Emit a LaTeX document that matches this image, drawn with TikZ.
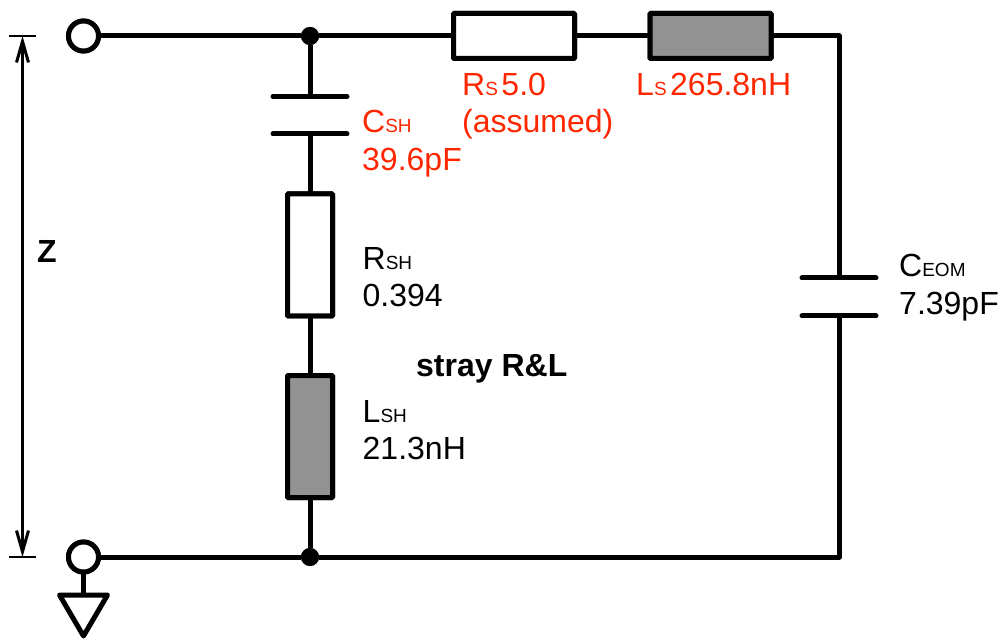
\documentclass[tikz,border=0pt]{standalone}
\usepackage{fontspec}
\setmainfont{Liberation Sans}
\usetikzlibrary{arrows.meta}
\definecolor{lbl}{RGB}{255,38,0}
\definecolor{fillgray}{RGB}{146,146,146}
\newcommand{\lsub}[1]{{\fontsize{19}{24}\selectfont #1}}
\tikzset{
  x=1pt,y=-1pt,
  wire/.style={line width=5pt,line join=round,line cap=butt},
  plate/.style={line width=5pt,line cap=round},
  thin wire/.style={line width=3pt},
  resbox/.style={draw,line width=5pt,rounded corners=0.8pt,fill=white,inner sep=0pt,outer sep=0pt},
  indbox/.style={resbox,fill=fillgray},
  hbox/.style={minimum width=121pt,minimum height=45pt},
  vbox/.style={minimum width=45pt,minimum height=122pt},
  term/.style={circle,draw,line width=5pt,fill=white,minimum size=30pt,inner sep=0pt,outer sep=0pt},
  junction/.style={circle,fill=black,minimum size=18pt,inner sep=0pt,outer sep=0pt},
  txt/.style={anchor=base west,inner sep=0pt,font=\fontsize{32}{38}\selectfont,text=black},
  red txt/.style={txt,text=lbl},
  bold txt/.style={txt,font=\fontsize{32}{38}\selectfont\bfseries},
}
\begin{document}
\begin{tikzpicture}
\useasboundingbox (0,0) rectangle (1002,639);
% named points
\node[term] (t1) at (83.5,36) {};
\node[term] (t2) at (83.5,557) {};
\node[junction] (j1) at (310,36) {};
\node[junction] (j2) at (310,557) {};
\node[resbox,hbox] (rs) at (514,36) {};
\node[indbox,hbox] (ls) at (710.5,36) {};
\node[resbox,vbox] (rsh) at (310,255) {};
\node[indbox,vbox] (lsh) at (310,436.5) {};
\coordinate (csh1) at (310,96.5);
\coordinate (csh2) at (310,134);
\coordinate (ceom1) at (839,278);
\coordinate (ceom2) at (839,316);
\coordinate (tr) at (839,36);
\coordinate (br) at (839,557);
\coordinate (gtop) at (83.5,595);
\coordinate (ztop) at (22.5,36);
\coordinate (zbot) at (22.5,557);
% wires
\draw[wire] (t1) -- (j1) -- (rs);
\draw[wire] (rs) -- (ls);
\draw[wire] (ls) -- (tr) -- (ceom1);
\draw[wire] (ceom2) -- (br) -- (j2) -- (t2);
\draw[wire] (j1) -- (csh1);
\draw[wire] (csh2) -- (rsh);
\draw[wire] (rsh) -- (lsh);
\draw[wire] (lsh) -- (j2);
\draw[wire] (t2) -- (gtop);
% redraw components on top of wires
\node[resbox,hbox] at (rs) {};
\node[indbox,hbox] at (ls) {};
\node[resbox,vbox] at (rsh) {};
\node[indbox,vbox] at (lsh) {};
\node[term] at (t1) {};
\node[term] at (t2) {};
\node[junction] at (j1) {};
\node[junction] at (j2) {};
% capacitor plates
\draw[plate] ([xshift=-37pt]csh1) -- ([xshift=37pt]csh1);
\draw[plate] ([xshift=-37pt]csh2) -- ([xshift=37pt]csh2);
\draw[plate] ([xshift=-37pt]ceom1) -- ([xshift=37pt]ceom1);
\draw[plate] ([xshift=-37pt]ceom2) -- ([xshift=37pt]ceom2);
% ground
\draw[wire,fill=white,line join=round] (gtop) -- ++(-24,0) -- (83.5,636) -- (107.5,595) -- cycle;
% Z dimension
\draw[thin wire,{Straight Barb[length=21pt,width=12pt,line width=3pt]}-{Straight Barb[length=21pt,width=12pt,line width=3pt]}] (ztop) -- (zbot);
\draw[line width=2.5pt] ([xshift=-13.5pt]ztop) -- ([xshift=13.5pt]ztop);
\draw[line width=2.5pt] ([xshift=-13.5pt]zbot) -- ([xshift=13.5pt]zbot);
% labels
\node[bold txt] (zl) at (37,263) {Z};
\node[red txt] (l1) at (462,96) {R\lsub{S}\hspace{3.5pt}5.0};
\node[red txt] (l2) at (462,133) {(assumed)};
\node[red txt] (l3) at (636,96) {L\lsub{S}\hspace{3.5pt}265.8nH};
\node[red txt] (l4) at (362,133) {C\lsub{SH}};
\node[red txt] (l5) at (362,171) {39.6pF};
\node[txt] (l6) at (362.5,270) {R\lsub{SH}};
\node[txt] (l7) at (362.5,307) {0.394};
\node[bold txt] (l8) at (416,376) {stray R\&L};
\node[txt] (l9) at (362.5,422) {L\lsub{SH}};
\node[txt] (l10) at (362.5,459) {21.3nH};
\node[txt] (l11) at (899,277) {C\lsub{EOM}};
\node[txt] (l12) at (899,314) {7.39pF};
\end{tikzpicture}
\end{document}
